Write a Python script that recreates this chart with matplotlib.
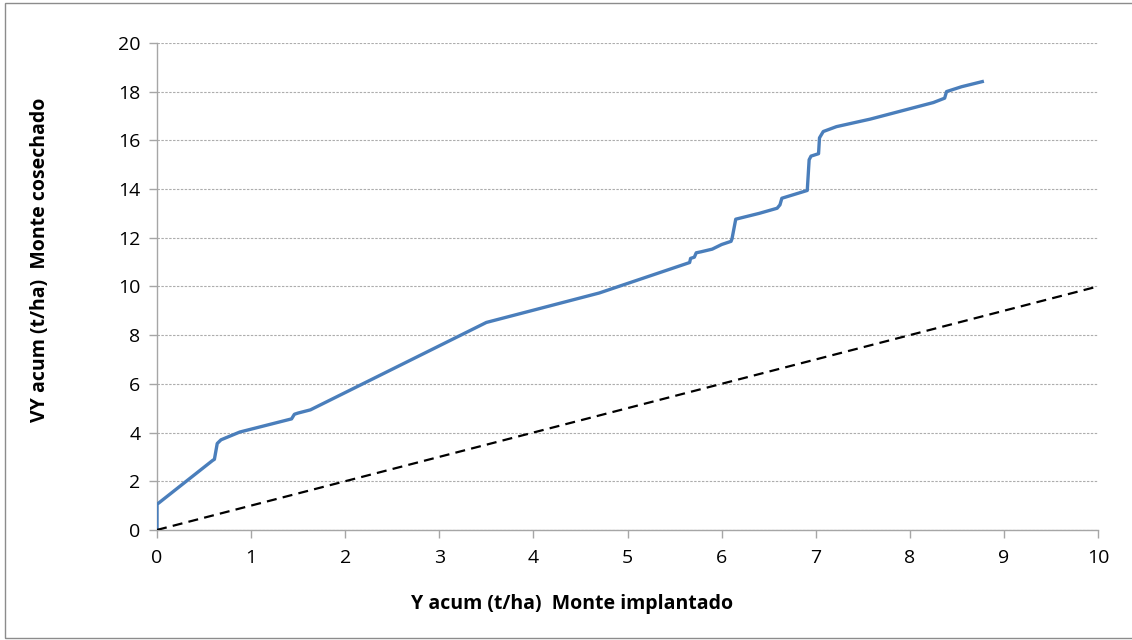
import matplotlib
matplotlib.use("Agg")
import matplotlib.pyplot as plt
from matplotlib.patches import Rectangle

# Cumulative yield: planted forest (x) vs harvested forest (y)
y_implantado = [0.0, 0.0, 0.59, 0.61, 0.64, 0.68, 0.88, 1.43, 1.46, 1.50, 1.63,
                3.50, 4.70, 5.66, 5.67, 5.71, 5.73, 5.78, 5.90, 6.00, 6.10,
                6.11, 6.15, 6.40, 6.59, 6.62, 6.64, 6.91, 6.93, 6.95, 7.03,
                7.04, 7.08, 7.22, 7.58, 8.25, 8.37, 8.39, 8.55, 8.77]
vy_cosechado = [0.0, 1.05, 2.85, 2.90, 3.55, 3.70, 4.02, 4.56, 4.75, 4.80, 4.93,
                8.52, 9.73, 10.98, 11.15, 11.20, 11.38, 11.42, 11.53, 11.72, 11.85,
                11.95, 12.76, 13.00, 13.21, 13.35, 13.62, 13.94, 15.20, 15.35, 15.45,
                16.10, 16.36, 16.56, 16.87, 17.55, 17.73, 18.00, 18.20, 18.41]

# 1:1 reference line
ref_x = [0, 10]
ref_y = [0, 10]

x_ticks = list(range(0, 11))
y_ticks = list(range(0, 21, 2))

plt.rcParams['font.family'] = ['Open Sans', 'DejaVu Sans']

fig = plt.figure(figsize=(11.32, 6.4), dpi=100)
fig.patches.append(Rectangle((0.004, 0.003), 1.2, 0.993, transform=fig.transFigure,
                             fill=False, edgecolor='#8c8c8c', linewidth=1.0))
ax = fig.add_axes([0.1387, 0.172, 0.8313, 0.761])

ax.plot(y_implantado, vy_cosechado, color='#4a7ebb', linewidth=2.4,
        solid_joinstyle='round', zorder=3)
ax.plot(ref_x, ref_y, color='black', linewidth=1.6, linestyle=(0, (4.5, 2.8)), zorder=3)

ax.set_xlim(0, 10)
ax.set_ylim(0, 20)
ax.set_xticks(x_ticks)
ax.set_yticks(y_ticks)
ax.yaxis.grid(True, color='#adadad', linestyle=(0, (2.2, 1.3)), linewidth=0.8)
ax.set_axisbelow(True)

for side in ('top', 'right'):
    ax.spines[side].set_visible(False)
for side in ('left', 'bottom'):
    ax.spines[side].set_color('#a6a6a6')
    ax.spines[side].set_linewidth(1.0)

ax.tick_params(axis='both', direction='out', length=5.8, width=1.0, color='#a6a6a6',
               labelsize=14, labelcolor='black')
ax.tick_params(axis='x', pad=8)
ax.tick_params(axis='y', pad=6)

fig.text(572 / 1132, 1 - 604 / 640, 'Y acum (t/ha)  Monte implantado',
         fontsize=14, fontweight='bold', ha='center', va='center')
fig.text(40 / 1132, 1 - 260 / 640, 'VY acum (t/ha)  Monte cosechado',
         fontsize=14, fontweight='bold', ha='center', va='center', rotation=90)

fig.savefig('out.png', dpi=100)
